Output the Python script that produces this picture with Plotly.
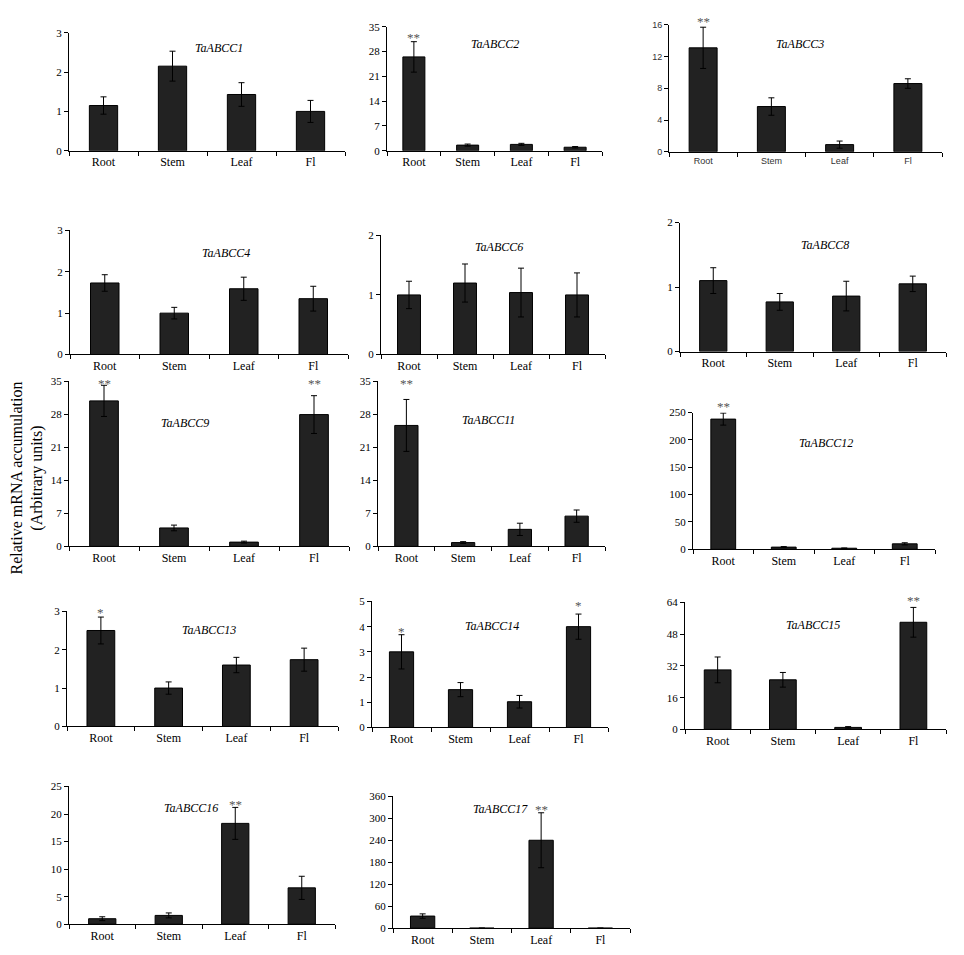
import plotly.graph_objects as go

tissues = ['Root', 'Stem', 'Leaf', 'Fl']

genes = ['TaABCC1', 'TaABCC2', 'TaABCC3', 'TaABCC4', 'TaABCC6', 'TaABCC8',
         'TaABCC9', 'TaABCC11', 'TaABCC12', 'TaABCC13', 'TaABCC14',
         'TaABCC15', 'TaABCC16', 'TaABCC17']

# mean expression per tissue (Root, Stem, Leaf, Fl)
abcc1 = [1.15, 2.15, 1.43, 1.0]
abcc2 = [26.5, 1.6, 1.8, 1.0]
abcc3 = [13.1, 5.7, 0.9, 8.6]
abcc4 = [1.73, 1.0, 1.59, 1.35]
abcc6 = [1.0, 1.2, 1.04, 1.0]
abcc8 = [1.1, 0.77, 0.86, 1.05]
abcc9 = [30.8, 3.9, 0.9, 27.9]
abcc11 = [25.6, 0.8, 3.6, 6.4]
abcc12 = [238, 4, 2, 10]
abcc13 = [2.5, 1.0, 1.6, 1.74]
abcc14 = [3.0, 1.5, 1.02, 4.0]
abcc15 = [30, 25, 1, 54]
abcc16 = [1.0, 1.6, 18.3, 6.6]
abcc17 = [33, 0, 240, 0]

# standard errors
abcc1_err = [0.22, 0.38, 0.3, 0.28]
abcc2_err = [4.3, 0.3, 0.3, 0.2]
abcc3_err = [2.6, 1.1, 0.45, 0.6]
abcc4_err = [0.2, 0.14, 0.28, 0.3]
abcc6_err = [0.23, 0.32, 0.41, 0.37]
abcc8_err = [0.2, 0.13, 0.23, 0.12]
abcc9_err = [3.3, 0.6, 0.2, 4.0]
abcc11_err = [5.5, 0.2, 1.3, 1.3]
abcc12_err = [11, 1, 0.5, 2]
abcc13_err = [0.35, 0.16, 0.2, 0.3]
abcc14_err = [0.68, 0.28, 0.25, 0.5]
abcc15_err = [6.5, 3.7, 0.4, 7.5]
abcc16_err = [0.35, 0.45, 2.9, 2.1]
abcc17_err = [6, 0, 75, 0]

# y axis ticks: top value and step
y_tops = [3, 35, 16, 3, 2, 2, 35, 35, 250, 3, 5, 64, 25, 360]
y_steps = [1, 7, 4, 1, 1, 1, 7, 7, 50, 1, 1, 16, 5, 60]

# significance marks: (panel index, tissue, mark)
marks = [(1, 'Root', '**'), (2, 'Root', '**'), (6, 'Root', '**'), (6, 'Fl', '**'),
         (7, 'Root', '**'), (8, 'Root', '**'), (9, 'Root', '*'),
         (10, 'Root', '*'), (10, 'Fl', '*'), (11, 'Fl', '**'),
         (12, 'Leaf', '**'), (13, 'Leaf', '**')]

values = [abcc1, abcc2, abcc3, abcc4, abcc6, abcc8, abcc9, abcc11, abcc12,
          abcc13, abcc14, abcc15, abcc16, abcc17]
errors = [abcc1_err, abcc2_err, abcc3_err, abcc4_err, abcc6_err, abcc8_err,
          abcc9_err, abcc11_err, abcc12_err, abcc13_err, abcc14_err,
          abcc15_err, abcc16_err, abcc17_err]

# page pixels: the html body has an 8px margin
W, H = 964, 955
PAD = 8
FW, FH = W - 2 * PAD, H - 2 * PAD


def px_x(p):
    return (p - PAD) / FW


def px_y(p):
    return 1 - (p - PAD) / FH


# pixel boxes (x left, x right, y of top tick, y of zero line)
boxes = [(69, 345, 27, 147), (387, 602, 21, 147), (669, 942, 19, 148),
         (70, 348, 228, 354), (381, 605, 233, 354), (680, 946, 220, 351),
         (69, 349, 381, 549), (378, 605, 381, 549), (693, 935, 413, 552),
         (67, 338, 615, 732), (372, 608, 605, 733), (685, 946, 606, 735),
         (69, 335, 793, 933), (393, 630, 803, 937)]
# title position (category position, fraction of axis height)
title_pos = [(1.67, 0.95), (1.5, 0.93), (1.42, 0.92), (1.75, 0.89),
             (1.6, 0.98), (1.68, 0.9), (1.15, 0.8), (1.45, 0.82),
             (1.7, 0.84), (1.6, 0.92), (1.54, 0.88), (1.46, 0.89),
             (1.34, 0.91), (1.31, 0.97)]
mark_frac = [0.99, 1.1, 1.045, 1.045, 1.045, 1.11, 1.07, 0.84, 1.04, 1.09,
             0.94, 0.97]

serif = 'Liberation Serif'
fig = go.Figure()
annotations = []
for i, (gene, vals, errs) in enumerate(zip(genes, values, errors)):
    n = '' if i == 0 else str(i + 1)
    fig.add_trace(go.Bar(
        x=tissues, y=vals, width=0.41, xaxis='x' + n, yaxis='y' + n,
        marker=dict(color='#222222', line=dict(color='black', width=1)),
        error_y=dict(type='data', array=errs, color='black', thickness=1,
                     width=3),
        showlegend=False))
    x0, x1, yt, yz = boxes[i]
    tfont = dict(family=serif, size=11, color='black')
    cfont = dict(family=serif, size=12, color='black')
    if gene == 'TaABCC3':
        tfont = dict(family='Liberation Sans', size=9, color='#333333')
        cfont = dict(family='Liberation Sans', size=9, color='#333333')
    fig.layout['xaxis' + n] = dict(
        domain=[px_x(x0), px_x(x1)], anchor='y' + n, range=[-0.5, 3.5],
        showline=True, linecolor='black', linewidth=1, ticks='outside',
        tickson='boundaries', ticklen=4, tickcolor='black', showgrid=False,
        tickfont=cfont, fixedrange=True)
    fig.layout['yaxis' + n] = dict(
        domain=[px_y(yz), px_y(yt)], anchor='x' + n,
        range=[0, y_tops[i]], dtick=y_steps[i], showline=True,
        linecolor='black', linewidth=1, ticks='outside', ticklen=4,
        tickcolor='black', showgrid=False, zeroline=False, tickfont=tfont,
        fixedrange=True)
    tx, ty = title_pos[i]
    annotations.append(dict(
        x=tx, y=ty, xref='x' + n, yref='y' + n + ' domain',
        text='<i>' + gene + '</i>', showarrow=False,
        font=dict(family=serif, size=12, color='black')))

for k, (panel, tissue, mark) in enumerate(marks):
    n = '' if panel == 0 else str(panel + 1)
    annotations.append(dict(
        x=tissue, y=mark_frac[k], xref='x' + n, yref='y' + n + ' domain',
        text=mark, showarrow=False,
        font=dict(family=serif, size=13, color='#555555')))

annotations.append(dict(
    x=px_x(27), y=px_y(480), xref='paper', yref='paper',
    xanchor='center', yanchor='middle',
    text='Relative mRNA accumulation<br>(Arbitrary units)', textangle=-90,
    showarrow=False, font=dict(family=serif, size=16, color='black')))

fig.update_layout(width=FW, height=FH, margin=dict(l=0, r=0, t=0, b=0),
                  plot_bgcolor='white', paper_bgcolor='white',
                  annotations=annotations)
fig.write_html('out.html')
